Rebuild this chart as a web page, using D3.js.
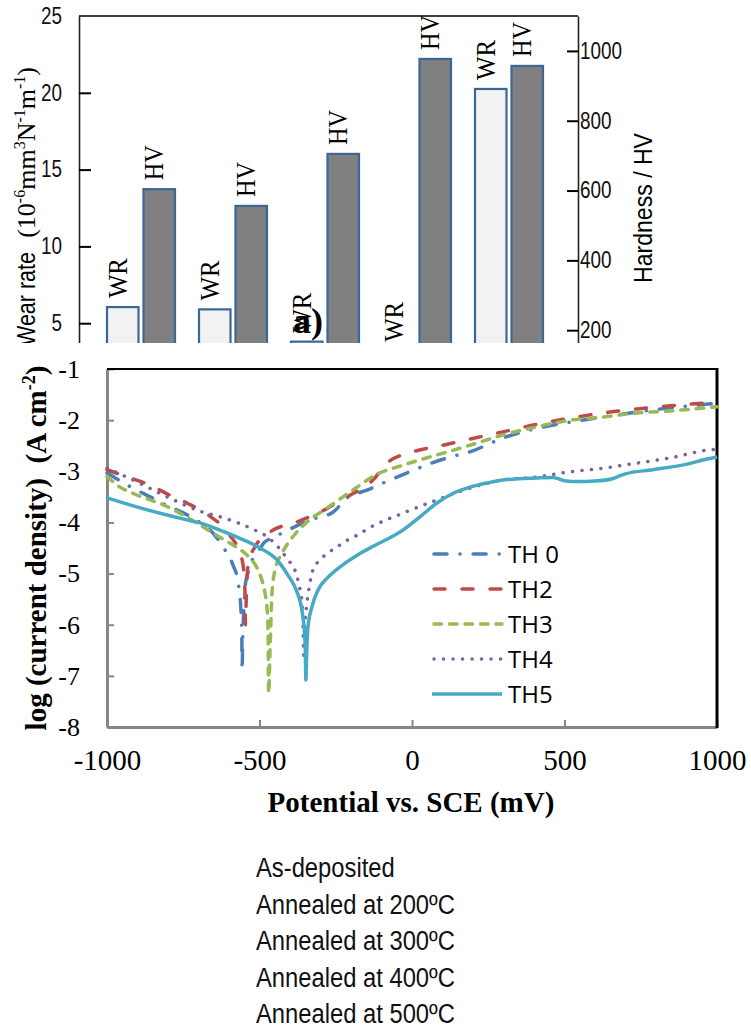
<!DOCTYPE html>
<html>
<head>
<meta charset="utf-8">
<script src="https://cdnjs.cloudflare.com/ajax/libs/d3/7.8.5/d3.min.js"></script>
<style>
  body { margin: 0; background: #fff; }
</style>
</head>
<body>
<div id="chart"></div>
<script>
// ---- data: wear rate / hardness bars
const samples = ["As-deposited", "Annealed at 200ºC", "Annealed at 300ºC", "Annealed at 400ºC", "Annealed at 500ºC"];
const wearRate = [6.05, 5.9, 3.8, 3.2, 20.25];
const hardness = [604, 556, 705, 977, 957];
const wearTicks = [5, 10, 15, 20, 25];
const hvTicks = [200, 400, 600, 800, 1000];

// ---- data: polarization curves (potential mV, log current density)
const seriesNames = ["TH 0", "TH2", "TH3", "TH4", "TH5"];
const th0E = [-1000,-930,-859,-800,-738,-700,-662,-613,-587,-570,-562,-558,-557,-555,-551,-546,-538,-525,-508,-482,-456,-407,-334,-259,-213,-148,-95,-7,60,125,190,298,410,518,626,738,846,1000];
const th0I = [-3.03,-3.28,-3.5,-3.68,-3.85,-3.98,-4.15,-4.54,-4.83,-5.18,-5.6,-6.2,-6.89,-6.3,-5.65,-5.2,-4.99,-4.75,-4.6,-4.38,-4.3,-4.15,-3.95,-3.8,-3.52,-3.37,-3.23,-3.01,-2.85,-2.72,-2.62,-2.35,-2.16,-2.04,-1.94,-1.84,-1.76,-1.67];
const th2E = [-1000,-930,-859,-800,-738,-662,-597,-557,-548,-546,-544,-540,-536,-531,-515,-466,-377,-302,-213,-128,-82,3,102,190,298,410,518,626,738,846,1000];
const th2I = [-2.97,-3.12,-3.27,-3.45,-3.62,-3.88,-4.25,-4.73,-5.3,-6.0,-5.6,-5.0,-4.8,-4.68,-4.48,-4.19,-3.99,-3.8,-3.5,-3.17,-2.84,-2.62,-2.49,-2.37,-2.23,-2.08,-1.96,-1.86,-1.78,-1.72,-1.65];
const th3E = [-1000,-960,-915,-803,-695,-630,-587,-541,-508,-492,-482,-475,-472,-470,-466,-459,-449,-426,-393,-344,-279,-226,-180,-128,-30,82,190,298,410,518,626,738,846,1000];
const th3I = [-3.1,-3.3,-3.43,-3.69,-4.05,-4.29,-4.44,-4.64,-4.89,-5.13,-5.38,-5.71,-6.1,-7.34,-6.6,-5.38,-4.93,-4.6,-4.3,-3.99,-3.72,-3.5,-3.31,-3.1,-2.88,-2.68,-2.49,-2.29,-2.13,-2.0,-1.94,-1.86,-1.82,-1.74];
const th4E = [-1000,-915,-803,-695,-630,-570,-515,-482,-439,-407,-384,-374,-367,-360,-357,-355,-352,-345,-335,-325,-308,-285,-262,-236,-210,-180,-138,-30,82,190,298,410,518,626,738,846,977,1000];
const th4I = [-2.94,-3.17,-3.5,-3.78,-3.89,-4.01,-4.15,-4.25,-4.48,-4.73,-4.93,-5.13,-5.32,-5.6,-6.2,-6.6,-6.1,-5.6,-5.2,-4.93,-4.77,-4.64,-4.54,-4.44,-4.34,-4.25,-4.1,-3.82,-3.56,-3.33,-3.17,-3.11,-3.01,-2.94,-2.84,-2.74,-2.58,-2.57];
const th5E = [-1000,-900,-800,-738,-695,-630,-564,-498,-443,-407,-377,-361,-354,-350,-348,-345,-341,-328,-308,-275,-236,-180,-138,-30,26,82,135,190,245,298,410,462,482,505,540,600,660,680,700,790,902,967,1000];
const th5I = [-3.52,-3.7,-3.86,-3.95,-4.01,-4.15,-4.31,-4.5,-4.73,-5.03,-5.36,-5.71,-6.04,-6.43,-7.08,-6.5,-6.04,-5.65,-5.32,-5.07,-4.87,-4.64,-4.5,-4.15,-3.89,-3.62,-3.43,-3.31,-3.23,-3.17,-3.13,-3.12,-3.15,-3.19,-3.2,-3.19,-3.14,-3.09,-3.05,-2.97,-2.86,-2.76,-2.72];
const potTicks = [-1000, -500, 0, 500, 1000];
const logTicks = [-1, -2, -3, -4, -5, -6, -7, -8];

const serif = "'Liberation Serif','Times New Roman',serif";
const sans = "'Liberation Sans',Arial,sans-serif";

const svg = d3.select("#chart").append("svg")
    .attr("width", 751)
    .attr("height", 1029)
    .style("background", "#fff");

// narrow a text by a factor, to imitate condensed faces
function squeeze(sel, k) {
  sel.each(function() {
    const w = this.getComputedTextLength();
    d3.select(this).attr("textLength", w * k).attr("lengthAdjust", "spacingAndGlyphs");
  });
}

// ================= top chart (cut off by the lower figure)
svg.append("clipPath").attr("id", "cut")
  .append("rect").attr("x", 0).attr("y", 0).attr("width", 751).attr("height", 343);
const upper = svg.append("g").attr("clip-path", "url(#cut)");

const x0 = d3.scaleBand().domain(d3.range(samples.length)).range([95, 555]);
const x1 = d3.scaleBand().domain(["WR", "HV"]).range([12, 80]).paddingInner(0.137);
const yW = d3.scaleLinear().domain([0, 25]).range([400, 16]);
const yH = d3.scaleLinear().domain([0, 1100]).range([400, 16]);

const rows = samples.map((s, i) => ({ i: i, WR: wearRate[i], HV: hardness[i] }));
const grp = upper.selectAll("g.grp").data(rows).join("g")
    .attr("class", "grp")
    .attr("transform", d => `translate(${x0(d.i)},0)`);
const barData = d => [{ k: "WR", y: yW(d.WR) }, { k: "HV", y: yH(d.HV) }];

grp.selectAll("rect").data(barData).join("rect")
    .attr("x", d => x1(d.k))
    .attr("y", d => d.y)
    .attr("width", x1.bandwidth())
    .attr("height", d => 400 - d.y)
    .attr("fill", d => d.k == "WR" ? "#f2f2f2" : "#808080")
    .attr("stroke", "#3c6696")
    .attr("stroke-width", 2.2);

grp.selectAll("text").data(barData).join("text")
    .attr("transform", d => `translate(${x1(d.k) + x1.bandwidth() / 2 + 4},${d.y - 9}) rotate(-90)`)
    .attr("font-family", serif)
    .attr("font-size", 28)
    .attr("textLength", d => d.k == "WR" ? 40 : 35)
    .attr("lengthAdjust", "spacingAndGlyphs")
    .text(d => d.k);

// axes
const axL = upper.append("g").attr("transform", "translate(79,0)")
    .call(d3.axisLeft(yW).tickValues(wearTicks).tickSize(-12).tickSizeOuter(0).tickPadding(17));
const axR = upper.append("g").attr("transform", "translate(578,0)")
    .call(d3.axisRight(yH).tickValues(hvTicks).tickSize(-11).tickSizeOuter(0).tickPadding(2).tickFormat(d3.format("d")));
[axL, axR].forEach(ax => {
  ax.attr("font-family", sans).attr("font-size", 23);
  ax.select(".domain").attr("stroke", "#222").attr("stroke-width", 1.6);
  ax.selectAll(".tick line").attr("stroke", "#000").attr("stroke-width", 2);
  ax.selectAll(".tick text").attr("fill", "#111");
  squeeze(ax.selectAll(".tick text"), 0.82);
});
axL.selectAll(".tick").filter(d => d == 25).select("line").remove();
upper.append("line")
    .attr("x1", 79).attr("x2", 578).attr("y1", yW(25)).attr("y2", yW(25))
    .attr("stroke", "#000").attr("stroke-width", 1.6);

// axis titles
upper.append("text")
    .attr("transform", "translate(652,208) rotate(-90)")
    .attr("text-anchor", "middle")
    .attr("font-family", sans).attr("font-size", 25)
    .attr("textLength", 150).attr("lengthAdjust", "spacingAndGlyphs")
    .text("Hardness / HV");

upper.append("text")
    .attr("transform", "translate(35,252) rotate(-90)")
    .attr("text-anchor", "end")
    .attr("font-family", sans).attr("font-size", 25)
    .attr("textLength", 94).attr("lengthAdjust", "spacingAndGlyphs")
    .text("Wear rate");

const unit = upper.append("text")
    .attr("transform", "translate(35,67) rotate(-90)")
    .attr("text-anchor", "end")
    .attr("font-family", serif).attr("font-size", 26);
[["(10", 0], ["-6", 1], ["mm", 0], ["3", 1], ["N", 0], ["-1", 1], ["m", 0], ["-1", 1], [")", 0]]
  .forEach((p, j, arr) => {
    const prevSup = j > 0 && arr[j - 1][1] == 1;
    unit.append("tspan")
        .attr("font-size", p[1] ? 16 : 26)
        .attr("dy", p[1] ? -10 : (prevSup ? 10 : 0))
        .text(p[0]);
  });

// panel letter
svg.append("text")
    .attr("x", 293).attr("y", 333)
    .attr("font-family", serif).attr("font-size", 36).attr("font-weight", "bold")
    .text("a)");

// ================= bottom chart: polarization curves
const x = d3.scaleLinear().domain([-1000, 1000]).range([107, 717]);
const y = d3.scaleLinear().domain([-8, -1]).range([727, 369]);

const lower = svg.append("g");

const axB = lower.append("g").attr("transform", "translate(0,727)")
    .call(d3.axisBottom(x).tickValues(potTicks).tickSize(-7).tickSizeOuter(0).tickPadding(22).tickFormat(d => String(d)));
const axY = lower.append("g").attr("transform", "translate(107,0)")
    .call(d3.axisLeft(y).tickValues(logTicks).tickSize(-7).tickSizeOuter(0).tickPadding(27).tickFormat(d => String(d)));
axB.attr("font-family", serif).attr("font-size", 29);
axY.attr("font-family", serif).attr("font-size", 26);
[axB, axY].forEach(ax => {
  ax.select(".domain").attr("stroke", "#868686").attr("stroke-width", 3);
  ax.selectAll(".tick line").attr("stroke", "#868686").attr("stroke-width", 2);
  ax.selectAll(".tick text").attr("fill", "#000");
});
lower.append("line").attr("x1", 107).attr("x2", 718).attr("y1", 369).attr("y2", 369)
    .attr("stroke", "#000").attr("stroke-width", 2);
lower.append("line").attr("x1", 717).attr("x2", 717).attr("y1", 368).attr("y2", 728)
    .attr("stroke", "#000").attr("stroke-width", 3);

svg.append("clipPath").attr("id", "plot")
  .append("rect").attr("x", 105).attr("y", 360).attr("width", 616).attr("height", 368);

const curves = [
  { name: "TH 0", E: th0E, I: th0I, color: "#4a7ebb", dash: "13,13,0.1,13" },
  { name: "TH2", E: th2E, I: th2I, color: "#be4b48", dash: "11,17" },
  { name: "TH3", E: th3E, I: th3I, color: "#98b954", dash: "7.5,8" },
  { name: "TH4", E: th4E, I: th4I, color: "#7d60a0", dash: "0.1,9.4" },
  { name: "TH5", E: th5E, I: th5I, color: "#46aac5", dash: null }
];

const line = d3.line()
    .x(d => x(d[0]))
    .y(d => y(d[1]))
    .curve(d3.curveMonotoneX);

lower.append("g").attr("clip-path", "url(#plot)")
  .selectAll("path").data(curves).join("path")
    .attr("d", c => line(c.E.map((e, j) => [e, c.I[j]])))
    .attr("fill", "none")
    .attr("stroke", c => c.color)
    .attr("stroke-width", 3.5)
    .attr("stroke-linecap", c => c.dash ? "round" : "butt")
    .attr("stroke-dasharray", c => c.dash);

// legend
const leg = lower.append("g").selectAll("g").data(curves).join("g")
    .attr("transform", (c, j) => `translate(432,${554 + j * 35})`);
leg.append("line")
    .attr("x1", c => c.dash ? 2 : 0).attr("x2", 70)
    .attr("stroke", c => c.color)
    .attr("stroke-width", 3.5)
    .attr("stroke-linecap", c => c.dash ? "round" : "butt")
    .attr("stroke-dasharray", c => c.dash);
leg.append("text")
    .attr("x", 76).attr("dy", "0.36em")
    .attr("font-family", "'Open Sans',sans-serif").attr("font-size", 24)
    .text(c => c.name);

// axis titles
lower.append("text")
    .attr("x", 411).attr("y", 812)
    .attr("text-anchor", "middle")
    .attr("font-family", serif).attr("font-size", 29).attr("font-weight", "bold")
    .text("Potential vs. SCE (mV)");

const yt = lower.append("text")
    .attr("transform", "translate(46,548) rotate(-90)")
    .attr("text-anchor", "middle")
    .attr("font-family", serif).attr("font-size", 29).attr("font-weight", "bold")
    .style("white-space", "pre");
yt.append("tspan").text("log (current density)  (A cm");
yt.append("tspan").attr("font-size", 18).attr("dy", -11).text("-2");
yt.append("tspan").attr("dy", 11).text(")");

// ================= sample names below
const rowY = d3.scalePoint().domain(samples).range([877, 1023]);
const names = svg.append("g").selectAll("text").data(samples).join("text")
    .attr("x", 256)
    .attr("y", d => rowY(d))
    .attr("font-family", sans).attr("font-size", 27)
    .attr("fill", "#111")
    .text(d => d);
squeeze(names, 0.88);
</script>
</body>
</html>
